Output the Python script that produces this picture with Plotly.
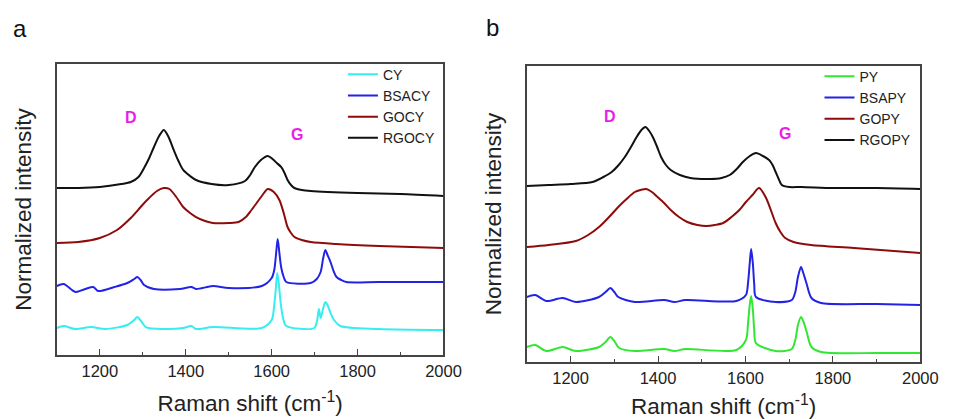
import plotly.graph_objects as go

# ---------------- Panel a data (Raman shift, normalized intensity a.u.) ----------------
a_rgocy_x = [1100, 1150, 1200, 1250, 1272, 1290, 1303, 1315, 1326, 1338, 1349, 1360, 1372, 1383, 1394,
             1410, 1424, 1460, 1500, 1538, 1550, 1561, 1575, 1591, 1602, 1612, 1622, 1630, 1637, 1645,
             1653, 1670, 1691, 1800, 1900, 2000]
a_rgocy_y = [167, 167, 168, 171, 173, 178, 187, 197, 208, 219, 225, 218, 205, 194, 185,
             179, 175, 171, 170, 174, 180, 188, 195, 199, 196, 192, 188, 182, 175, 170,
             167, 165, 164, 162, 161, 159]

a_gocy_x = [1100, 1150, 1200, 1240, 1272, 1295, 1310, 1333, 1349, 1362, 1378, 1394, 1410, 1424, 1445,
            1463, 1500, 1523, 1540, 1553, 1565, 1577, 1591, 1605, 1618, 1628, 1637, 1645, 1653, 1670,
            1691, 1750, 1850, 2000]
a_gocy_y = [112, 113, 117, 125, 137, 148, 155, 164, 167, 166, 158, 148, 142, 138, 134,
            132, 132, 133, 138, 145, 152, 159, 166, 163, 155, 142, 128, 122, 118, 115,
            113, 111, 109, 107]

a_bsacy_x = [1100, 1116, 1143, 1166, 1185, 1196, 1234, 1264, 1280, 1287, 1295, 1303, 1326, 1386, 1413,
             1424, 1463, 1500, 1577, 1600, 1606, 1610, 1614, 1618, 1622, 1628, 1634, 1691, 1705, 1714,
             1720, 1725, 1730, 1737, 1745, 1751, 1762, 1774, 1850, 2000]
a_bsacy_y = [69, 71, 63, 66, 68, 64, 68, 72, 76, 78, 75, 70, 66, 66, 68,
             66, 69, 67, 69, 77, 85, 100, 116, 102, 88, 78, 73, 72, 76, 83,
             97, 105, 100, 93, 83, 78, 75, 73, 73, 73]

a_cy_x = [1100, 1116, 1143, 1180, 1212, 1264, 1280, 1287, 1296, 1307, 1349, 1394, 1413, 1424, 1463,
          1577, 1600, 1606, 1610, 1613, 1617, 1621, 1627, 1634, 1699, 1706, 1710, 1714, 1720, 1725,
          1730, 1737, 1745, 1760, 1850, 2000]
a_cy_y = [27, 29, 26, 28, 26, 30, 35, 38, 34, 28, 26, 27, 29, 26, 28,
          27, 35, 50, 68, 82, 70, 52, 36, 29, 27, 35, 46, 37, 47, 53,
          50, 42, 35, 29, 26, 25]

# ---------------- Panel b data ----------------
b_rgopy_x = [1100, 1150, 1200, 1250, 1275, 1294, 1310, 1324, 1338, 1351, 1362, 1371, 1380, 1388, 1398,
             1407, 1418, 1429, 1450, 1474, 1519, 1545, 1564, 1580, 1594, 1610, 1624, 1640, 1654, 1662,
             1669, 1676, 1683, 1700, 1728, 1800, 1900, 2000]
b_rgopy_y = [176, 177, 178, 180, 185, 190, 197, 205, 215, 225, 232, 235, 231, 225, 215,
             205, 197, 192, 187, 184, 183, 184, 187, 193, 200, 206, 209, 206, 202, 197,
             190, 183, 177, 175, 175, 174, 174, 173]

b_gopy_x = [1100, 1150, 1212, 1240, 1265, 1288, 1309, 1328, 1347, 1360, 1373, 1386, 1399, 1414, 1429,
            1448, 1467, 1490, 1511, 1530, 1549, 1568, 1586, 1601, 1616, 1631, 1646, 1658, 1669, 1680,
            1691, 1710, 1750, 1848, 2000]
b_gopy_y = [115, 117, 121, 127, 135, 145, 155, 163, 170, 172, 173, 170, 165, 159, 152,
            145, 140, 137, 136, 137, 139, 145, 152, 160, 167, 174, 165, 152, 139, 130,
            124, 120, 117, 114, 109]

b_bsapy_x = [1100, 1119, 1145, 1182, 1212, 1265, 1280, 1291, 1300, 1309, 1347, 1414, 1437, 1463, 1579,
             1601, 1606, 1610, 1613, 1617, 1620, 1624, 1669, 1706, 1714, 1720, 1727, 1733, 1740, 1751,
             1773, 1900, 2000]
b_bsapy_y = [65, 67, 61, 64, 60, 65, 70, 74, 70, 65, 60, 62, 60, 62, 61,
             67, 80, 100, 113, 98, 78, 65, 60, 62, 70, 85, 95, 88, 78, 64,
             59, 58, 57]

b_py_x = [1100, 1119, 1145, 1182, 1212, 1265, 1280, 1291, 1300, 1311, 1347, 1414, 1437, 1463, 1579,
          1601, 1606, 1610, 1613, 1617, 1620, 1624, 1669, 1706, 1714, 1720, 1727, 1733, 1740, 1751,
          1773, 1900, 2000]
b_py_y = [15, 17, 11, 15, 11, 15, 20, 25, 21, 14, 11, 13, 11, 13, 12,
          22, 40, 58, 66, 52, 32, 19, 11, 13, 22, 37, 45, 40, 30, 15,
          10, 9, 9]

x_ticks = [1200, 1400, 1600, 1800, 2000]

CYAN = "#36eef0"
BLUE = "#2323e6"
DRED = "#8e0b0b"
BLACK = "#111111"
GREEN = "#33e633"

fig = go.Figure()

def add(x, y, name, color, xa, ya, legend):
    fig.add_trace(go.Scatter(x=x, y=y, name=name, mode="lines",
                             line=dict(color=color, width=2, shape="spline", smoothing=0.8),
                             xaxis=xa, yaxis=ya, legend=legend))

add(a_cy_x, a_cy_y, "CY", CYAN, "x", "y", "legend")
add(a_bsacy_x, a_bsacy_y, "BSACY", BLUE, "x", "y", "legend")
add(a_gocy_x, a_gocy_y, "GOCY", DRED, "x", "y", "legend")
add(a_rgocy_x, a_rgocy_y, "RGOCY", BLACK, "x", "y", "legend")

add(b_py_x, b_py_y, "PY", GREEN, "x2", "y2", "legend2")
add(b_bsapy_x, b_bsapy_y, "BSAPY", BLUE, "x2", "y2", "legend2")
add(b_gopy_x, b_gopy_y, "GOPY", DRED, "x2", "y2", "legend2")
add(b_rgopy_x, b_rgopy_y, "RGOPY", BLACK, "x2", "y2", "legend2")

FAM = "Arial, Liberation Sans, sans-serif"
axis_font = dict(family=FAM, size=16.5, color="#222")
title_font = dict(family=FAM, size=22.5, color="#222")

def xaxis(domain, anchor):
    return dict(domain=domain, anchor=anchor, range=[1100, 2000], tickvals=x_ticks,
                ticks="inside", ticklen=6, tickwidth=1.2, tickcolor="#444",
                minor=dict(ticks="inside", ticklen=3, tickcolor="#444", dtick=100, tick0=1100,
                           showgrid=False),
                showline=True, linecolor="#444", linewidth=1.5, mirror=True,
                showgrid=False, zeroline=False, tickfont=axis_font,
                title=dict(text="Raman shift (cm<sup>-1</sup>)", font=title_font, standoff=17))

def yaxis(domain, anchor, rng):
    return dict(domain=domain, anchor=anchor, range=rng, showticklabels=False, ticks="",
                showline=True, linecolor="#444", linewidth=1.5, mirror=True,
                showgrid=False, zeroline=False,
                title=dict(text="Normalized intensity", font=title_font, standoff=17))

leg_font = dict(family=FAM, size=14, color="#222")

fig.update_layout(
    width=958, height=419,
    margin=dict(l=0, r=0, t=0, b=0),
    paper_bgcolor="white", plot_bgcolor="white",
    xaxis=xaxis([0.0605, 0.4718], "y"),
    yaxis=yaxis([0.1527, 0.8473], "x", [0, 291]),
    xaxis2=xaxis([0.5605, 0.9791], "y2"),
    yaxis2=yaxis([0.136, 0.8425], "x2", [0, 296]),
    legend=dict(x=0.468, y=0.86, xanchor="right", yanchor="top", font=leg_font,
                bgcolor="rgba(0,0,0,0)", tracegroupgap=0, itemwidth=30),
    legend2=dict(x=0.975, y=0.855, xanchor="right", yanchor="top", font=leg_font,
                 bgcolor="rgba(0,0,0,0)", tracegroupgap=0, itemwidth=30),
    showlegend=True,
)

ann_font = dict(family=FAM, size=16, color="#e81ee8")
fig.add_annotation(x=1272, y=237, xref="x", yref="y", text="<b>D</b>", showarrow=False, font=ann_font)
fig.add_annotation(x=1660, y=220, xref="x", yref="y", text="<b>G</b>", showarrow=False, font=ann_font)
fig.add_annotation(x=1291, y=245, xref="x2", yref="y2", text="<b>D</b>", showarrow=False, font=ann_font)
fig.add_annotation(x=1691, y=229, xref="x2", yref="y2", text="<b>G</b>", showarrow=False, font=ann_font)

lab_font = dict(family=FAM, size=24, color="#111")
fig.add_annotation(x=20 / 958, y=1 - 28 / 419, xref="paper", yref="paper", text="a",
                   xanchor="center", yanchor="middle", showarrow=False, font=lab_font)
fig.add_annotation(x=502 / 958, y=1 - 27 / 419, xref="paper", yref="paper", text="b",
                   xanchor="center", yanchor="middle", showarrow=False, font=lab_font)

fig.write_html("out.html")
